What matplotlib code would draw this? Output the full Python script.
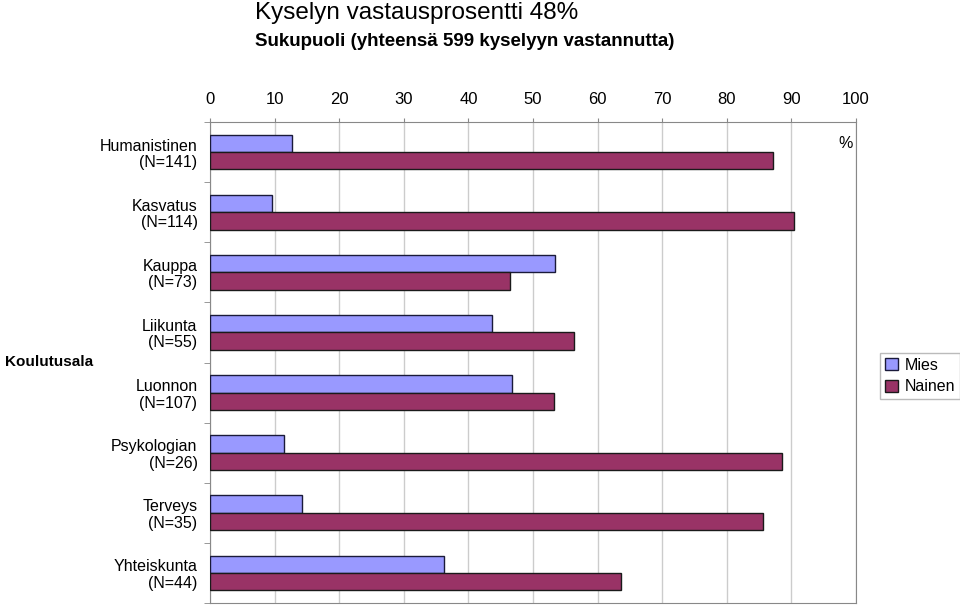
import numpy as np
import matplotlib
matplotlib.use("Agg")
import matplotlib.pyplot as plt

categories = ["Humanistinen\n(N=141)", "Kasvatus\n(N=114)", "Kauppa\n(N=73)",
              "Liikunta\n(N=55)", "Luonnon\n(N=107)", "Psykologian\n(N=26)",
              "Terveys\n(N=35)", "Yhteiskunta\n(N=44)"]
mies = [12.7, 9.6, 53.4, 43.6, 46.7, 11.5, 14.3, 36.3]
nainen = [87.2, 90.4, 46.5, 56.3, 53.2, 88.5, 85.6, 63.6]
xticks = list(range(0, 101, 10))

plt.rcParams["font.family"] = ["Liberation Sans", "DejaVu Sans"]

fig = plt.figure(figsize=(9.6, 6.05), dpi=100)
ax = fig.add_axes([210 / 960, 1 - 603 / 605, (856 - 210) / 960, (603 - 122) / 605])

y = np.arange(len(categories))
h = 0.29
ax.barh(y - h / 2, mies, height=h, color="#9999FF", edgecolor="#1a1a3a",
        linewidth=1.0, label="Mies", zorder=3)
ax.barh(y + h / 2, nainen, height=h, color="#993366", edgecolor="#1a1a1a",
        linewidth=1.0, label="Nainen", zorder=3)

ax.set_xlim(0, 100)
ax.set_ylim(len(categories) - 0.5, -0.5)
ax.xaxis.tick_top()
ax.set_xticks(xticks)
ax.set_xticklabels([str(t) for t in xticks], fontsize=12)
ax.tick_params(axis="x", length=3, color="#888888", pad=8)
ax.grid(axis="x", color="#cccccc", linewidth=1.0, zorder=0)

ax.set_yticks(y)
ax.set_yticklabels(categories, fontsize=11.5, linespacing=1.12)
ax.set_yticks(np.arange(len(categories) + 1) - 0.5, minor=True)
ax.tick_params(axis="y", which="major", length=0, pad=9)
ax.tick_params(axis="y", which="minor", length=4, color="#888888")
for s in ax.spines.values():
    s.set_color("#888888")

ax.text(0.995, 0.97, "%", transform=ax.transAxes, ha="right", va="top", fontsize=11.5)

fig.text(255 / 960, 1 - 13 / 605, "Kyselyn vastausprosentti 48%",
         fontsize=17.5, va="center", ha="left")
fig.text(255 / 960, 1 - 42 / 605, "Sukupuoli (yhteensä 599 kyselyyn vastannutta)",
         fontsize=13.5, fontweight="bold", va="center", ha="left")
fig.text(5 / 960, 1 - 362 / 605, "Koulutusala", fontsize=11, fontweight="bold",
         va="center", ha="left")

fig.legend(loc="center", bbox_to_anchor=(920 / 960, 1 - 376 / 605), fontsize=11.5,
           frameon=True, fancybox=False, edgecolor="#aaaaaa", handlelength=0.8,
           handleheight=0.8, handletextpad=0.4, borderpad=0.3, labelspacing=0.4,
           borderaxespad=0)

fig.savefig("out.png", dpi=100)
